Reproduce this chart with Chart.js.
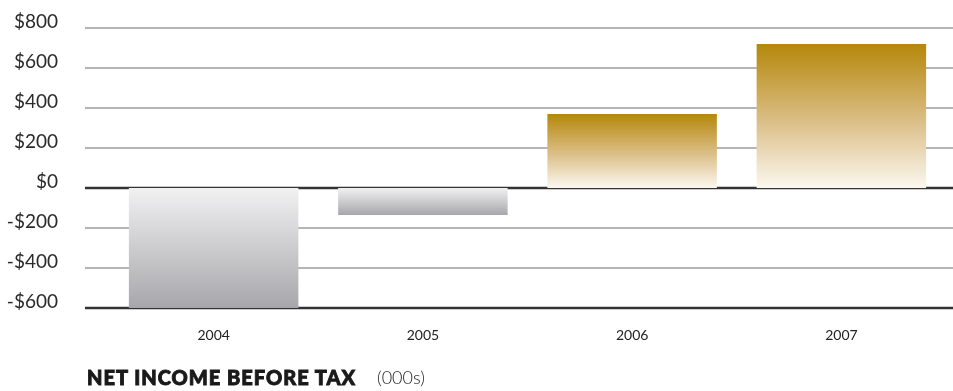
<!DOCTYPE html>
<html>
<head>
<meta charset="utf-8">
<script src="https://cdn.jsdelivr.net/npm/chart.js@4/dist/chart.umd.min.js"></script>
<style>
    html, body { margin: 0; padding: 0; background: #fff; }
    #wrap { position: relative; width: 953px; height: 391px; }
    #incomeChart { position: absolute; left: 0; top: 0; }
    .cap {
        position: absolute; top: 366px;
        font-family: Lato, "DejaVu Sans", sans-serif; color: #1a1a1a;
        white-space: nowrap; line-height: 22px;
    }
    #capMain {
        left: 87px; font-weight: 900; font-size: 20px; letter-spacing: 1px;
        -webkit-text-stroke: 0.9px #1a1a1a;
    }
    #capUnit { left: 377px; font-weight: 300; font-size: 18px; }
</style>
</head>
<body>
<div id="wrap">
    <canvas id="incomeChart" width="953" height="391"></canvas>
    <div class="cap" id="capMain">NET INCOME BEFORE TAX</div>
    <div class="cap" id="capUnit">(000s)</div>
</div>
<script>
// Net income before tax, in thousands
const years = ["2004", "2005", "2006", "2007"];
const netIncome = [-600, -135, 370, 720];
const yTicks = [-600, -400, -200, 0, 200, 400, 600, 800];

// gray for losses, gold for profits; each bar fades toward the zero line
function barFill(context) {
    const chart = context.chart;
    const y = chart.scales.y;
    if (!chart.chartArea || !y) return "#ccc";
    const v = context.raw;
    const top = y.getPixelForValue(v);
    const zero = y.getPixelForValue(0);
    const g = chart.ctx.createLinearGradient(0, zero, 0, top);
    if (v < 0) {
        g.addColorStop(0, "#f1f1f2");
        g.addColorStop(1, "#a7a7ab");
    } else {
        g.addColorStop(0, "#fbf8ef");
        g.addColorStop(0.45, "#dcc08a");
        g.addColorStop(1, "#b5870a");
    }
    return g;
}

// horizontal rules that run past the plot area on both sides
const rules = {
    id: "rules",
    beforeDatasetsDraw(chart) {
        const ctx = chart.ctx;
        const y = chart.scales.y;
        ctx.save();
        y.ticks.forEach(function (t) {
            const py = Math.round(y.getPixelForValue(t.value));
            const strong = t.value === 0 || t.value === yTicks[0];
            ctx.strokeStyle = strong ? "#333" : "#b5b5b9";
            ctx.lineWidth = strong ? 2.5 : 2;
            ctx.beginPath();
            ctx.moveTo(85, py);
            ctx.lineTo(chart.width, py);
            ctx.stroke();
        });
        ctx.restore();
    }
};

new Chart(document.getElementById("incomeChart"), {
    type: "bar",
    data: {
        labels: years,
        datasets: [{
            data: netIncome,
            backgroundColor: barFill,
            borderWidth: 0,
            categoryPercentage: 1,
            barPercentage: 0.81
        }]
    },
    options: {
        responsive: false,
        animation: false,
        layout: { padding: { top: 28, right: 7, bottom: 0, left: 0 } },
        plugins: { legend: { display: false }, tooltip: { enabled: false } },
        scales: {
            x: {
                grid: { display: false },
                border: { display: false },
                afterFit(axis) {
                    axis.height = 83;
                    axis.paddingLeft = 0;
                    axis.paddingRight = 0;
                },
                ticks: {
                    color: "#222",
                    padding: 11,
                    font: { family: "Lato", size: 14 }
                }
            },
            y: {
                min: -600,
                max: 800,
                afterBuildTicks(axis) {
                    axis.ticks = yTicks.map(function (v) { return { value: v }; });
                },
                afterFit(axis) {
                    axis.width = 109;
                    axis.paddingTop = 0;
                    axis.paddingBottom = 0;
                },
                grid: { display: false },
                border: { display: false },
                ticks: {
                    color: "#2a2a2a",
                    padding: 43,
                    labelOffset: -6,
                    font: { family: "Lato", size: 19 },
                    callback: function (v) {
                        return (v < 0 ? "-$" : "$") + Math.abs(v);
                    }
                }
            }
        }
    },
    plugins: [rules]
});
</script>
</body>
</html>
